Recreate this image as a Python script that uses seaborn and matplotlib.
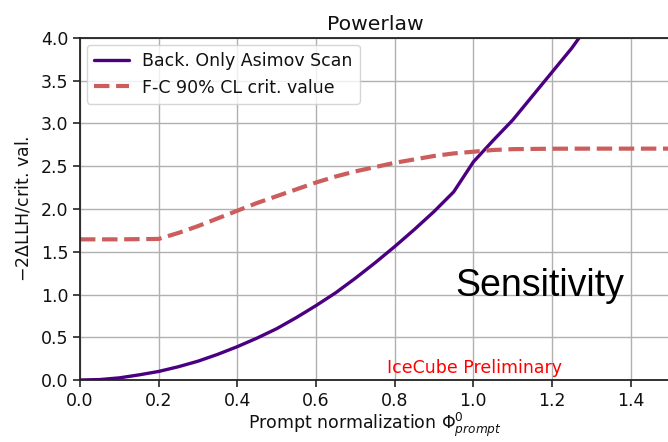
import matplotlib
matplotlib.use("Agg")
import matplotlib.pyplot as plt
import seaborn as sns
import pandas as pd

# Background-only Asimov scan of -2 dLLH vs prompt normalization
scan_x = [0.0, 0.05, 0.1, 0.15, 0.2, 0.25, 0.3, 0.35, 0.4, 0.45, 0.5, 0.55, 0.6,
          0.65, 0.7, 0.75, 0.8, 0.85, 0.9, 0.95, 1.0, 1.05, 1.1, 1.15, 1.2, 1.25, 1.3]
scan_y = [0.0, 0.005, 0.025, 0.06, 0.1, 0.155, 0.22, 0.3, 0.39, 0.49, 0.6, 0.73, 0.87,
          1.02, 1.19, 1.37, 1.56, 1.76, 1.97, 2.2, 2.55, 2.8, 3.04, 3.32, 3.6, 3.88, 4.2]

# Feldman-Cousins 90% CL critical values
fc_x = [0.0, 0.1, 0.2, 0.25, 0.3, 0.35, 0.4, 0.45, 0.5, 0.55, 0.6, 0.65, 0.7, 0.75,
        0.8, 0.85, 0.9, 0.95, 1.0, 1.05, 1.1, 1.2, 1.3, 1.5]
fc_y = [1.645, 1.645, 1.65, 1.72, 1.8, 1.89, 1.98, 2.07, 2.15, 2.23, 2.31, 2.38, 2.44,
        2.49, 2.54, 2.58, 2.62, 2.65, 2.67, 2.69, 2.70, 2.705, 2.706, 2.706]

x_ticks = [0.0, 0.2, 0.4, 0.6, 0.8, 1.0, 1.2, 1.4]
y_ticks = [0.0, 0.5, 1.0, 1.5, 2.0, 2.5, 3.0, 3.5, 4.0]

sns.set_theme(style="ticks", rc={
    "font.size": 12.5, "axes.labelsize": 12.5, "axes.titlesize": 14.7,
    "xtick.labelsize": 12.5, "ytick.labelsize": 12.5, "legend.fontsize": 12.5,
    "axes.linewidth": 1.3, "xtick.major.width": 1.1, "ytick.major.width": 1.1,
    "xtick.major.size": 5, "ytick.major.size": 5,
    "xtick.color": "#111111", "ytick.color": "#111111",
    "axes.edgecolor": "#222222", "text.color": "#111111",
    "axes.labelcolor": "#111111",
})
plt.rcParams["font.family"] = ["DejaVu Sans"]

fig = plt.figure(figsize=(6.68, 4.42), dpi=100)
ax = fig.add_axes([80 / 668, 62 / 442, 590 / 668, 342 / 442])

scan = pd.DataFrame({"x": scan_x, "y": scan_y})
fc = pd.DataFrame({"x": fc_x, "y": fc_y})

sns.lineplot(data=scan, x="x", y="y", ax=ax, color="#4b0082", lw=2.4,
             label="Back. Only Asimov Scan", sort=False)
sns.lineplot(data=fc, x="x", y="y", ax=ax, color="#cd5c5c", lw=3.0,
             linestyle="--", label="F-C 90% CL crit. value", sort=False)

ax.set_xlim(0, 1.5)
ax.set_ylim(0, 4.0)
ax.set_xticks(x_ticks)
ax.set_yticks(y_ticks)
ax.grid(True, color="#b0b0b0", lw=1.0)
ax.set_axisbelow(True)
ax.spines["right"].set_visible(False)

ax.set_title("Powerlaw", pad=6)
ax.set_xlabel(r"Prompt normalization $\Phi^0_{prompt}$", labelpad=1)
ax.set_ylabel(r"$-2\Delta$LLH/crit. val.", labelpad=6)

ax.text(0.953, 0.98, "Sensitivity", fontsize=27, family="Liberation Sans",
        color="black")
ax.text(0.78, 0.08, "IceCube Preliminary", fontsize=12.5, color="red")

leg = ax.legend(loc="upper left", frameon=True, fancybox=True, framealpha=0.8,
                borderaxespad=0.4)
leg.get_frame().set_edgecolor("#cccccc")

fig.savefig("out.png", dpi=100)
